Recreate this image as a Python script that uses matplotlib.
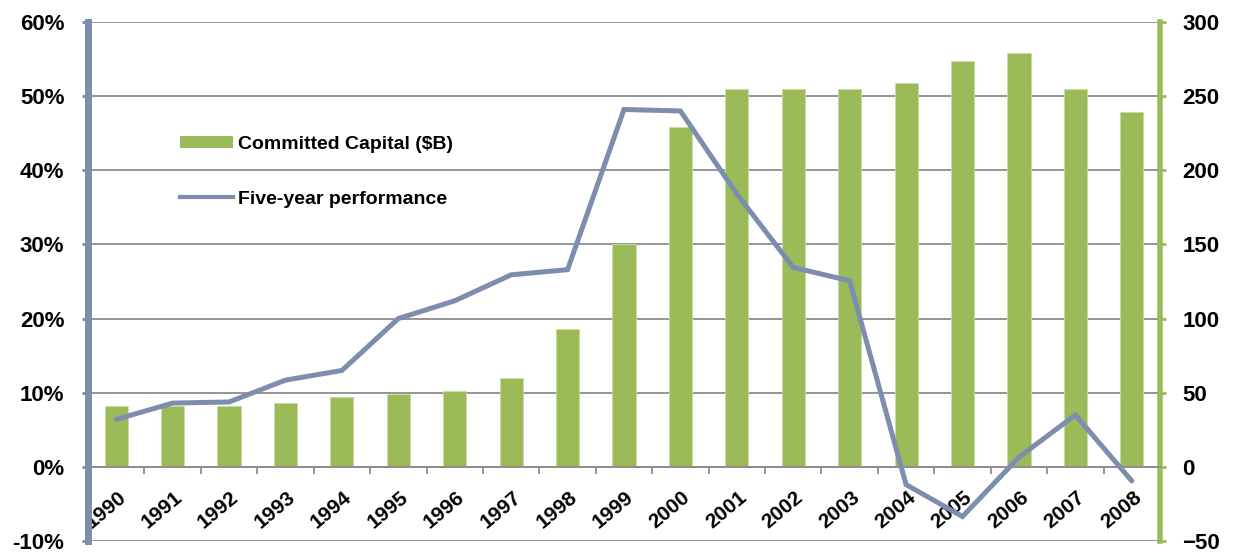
import matplotlib
matplotlib.use("Agg")
import matplotlib.pyplot as plt
from matplotlib.lines import Line2D
from matplotlib.patches import Patch
import numpy as np

# ---------------- DATA ----------------
years = ["1990", "1991", "1992", "1993", "1994", "1995", "1996", "1997", "1998", "1999",
         "2000", "2001", "2002", "2003", "2004", "2005", "2006", "2007", "2008"]
committed_capital = [41, 41, 41, 43, 47, 49, 51, 60, 93, 150,
                     229, 255, 255, 255, 259, 274, 279, 255, 239]
five_year_perf = [6.4, 8.6, 8.75, 11.7, 13.0, 20.0, 22.4, 25.9, 26.6, 48.2,
                  48.0, 36.8, 26.9, 25.1, -2.4, -6.7, 1.3, 7.0, -1.9]

GREEN = "#9BBB59"
SLATE = "#7C8DAD"
GRID = "#8C8C8C"
FONT = "Liberation Sans"

plt.rcParams["font.family"] = [FONT, "DejaVu Sans"]
plt.rcParams["font.weight"] = "bold"

fig = plt.figure(figsize=(12.33, 5.54), dpi=100)
ax = fig.add_axes([88 / 1233, 1 - 541 / 554, (1160 - 88) / 1233, (541 - 22) / 554])
x = np.arange(len(years))

# bars on primary axes (scale shown on the right)
ax.bar(x, committed_capital, width=0.41, color=GREEN, edgecolor="#C9DBA6",
       linewidth=0.6, zorder=2)
ax.set_xlim(-0.5, len(years) - 0.5)
ax.set_ylim(-50, 300)
ax.set_yticks(np.arange(-50, 301, 50))
ax.grid(axis="y", color=GRID, linewidth=1.3, zorder=0)
ax.set_axisbelow(True)

# category boundary ticks on the zero line
ax.spines["bottom"].set_position(("data", 0))
ax.spines["bottom"].set_color(GRID)
ax.spines["bottom"].set_linewidth(1.3)
ax.set_xticks(x[:-1] + 0.5)
ax.set_xticklabels([])
ax.tick_params(axis="x", direction="out", length=5, width=1.3, color=GRID)
ax.spines["top"].set_visible(False)
ax.spines["left"].set_visible(False)
ax.spines["right"].set_color(GREEN)
ax.spines["right"].set_linewidth(4)

for i, yr in enumerate(years):
    ax.text(i + 0.02, -14, yr, rotation=40, ha="right", va="top",
            fontsize=15, fontweight="bold", rotation_mode="anchor")

# line on twin axes (scale shown on the left)
ax2 = ax.twinx()
ax.yaxis.tick_right()
ax.tick_params(axis="y", direction="out", length=4, width=2,
               color=GREEN, labelsize=16, pad=12)

ax2.plot(x, five_year_perf, color=SLATE, linewidth=3.6, solid_capstyle="round",
         solid_joinstyle="miter", zorder=3)
ax2.set_ylim(-10, 60)
ax2.set_yticks(np.arange(-10, 61, 10))
ax2.set_yticklabels([f"{v}%" for v in range(-10, 61, 10)])
ax2.yaxis.tick_left()
ax2.tick_params(axis="y", direction="out", length=4, width=2, color=SLATE,
                labelsize=16, pad=13)
for s in ["top", "right", "bottom"]:
    ax2.spines[s].set_visible(False)
ax2.spines["left"].set_color(SLATE)
ax2.spines["left"].set_linewidth(5)

handles = [Patch(facecolor=GREEN, edgecolor="none"),
           Line2D([0], [0], color=SLATE, linewidth=3)]
labels = ["Committed Capital ($B)", "Five-year performance"]
leg = ax2.legend(handles, labels, loc="upper left", frameon=False,
                 bbox_to_anchor=(163 / 1233, 1 - 118 / 554), bbox_transform=fig.transFigure,
                 handlelength=2.7, handleheight=0.65, handletextpad=0.25, labelspacing=1.95,
                 prop={"family": [FONT], "weight": "bold", "size": 14})

fig.savefig("out.png", dpi=100)
